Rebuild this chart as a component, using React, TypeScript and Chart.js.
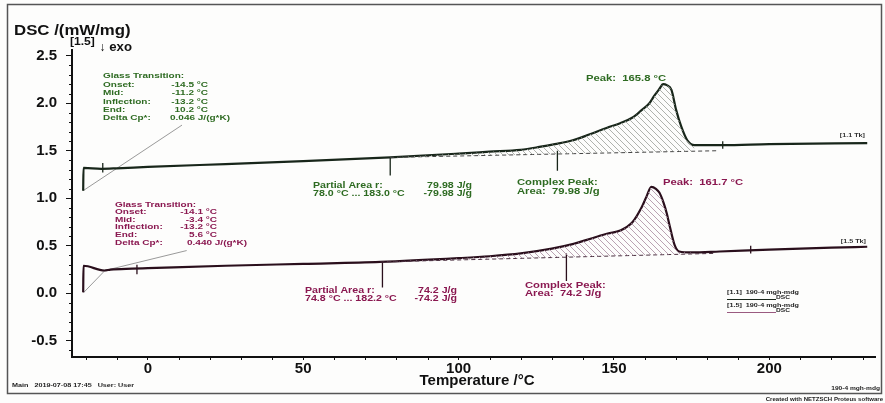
import React, { useEffect, useRef } from "react";
import { Chart, registerables } from "chart.js";
Chart.register(...registerables);

// ---- axis ticks ----
const xTicks = [0, 50, 100, 150, 200];
const yTicks = [-0.5, 0.0, 0.5, 1.0, 1.5, 2.0, 2.5];

// ---- upper DSC curve (green sample) ----
const upperT = [-20.8, -20.7, -15, -10, 0, 25, 50, 78, 100, 110, 120, 126, 131, 136.7, 142, 147.6, 152, 156, 159, 161.4, 163, 164.6, 165.8, 167, 168.5, 170, 171.7, 173.6, 175.9, 185, 200, 231.5];
const upperDSC = [1.08, 1.32, 1.31, 1.315, 1.33, 1.36, 1.39, 1.43, 1.47, 1.49, 1.51, 1.54, 1.57, 1.61, 1.67, 1.74, 1.79, 1.85, 1.93, 2.0, 2.08, 2.15, 2.2, 2.19, 2.14, 1.93, 1.75, 1.61, 1.56, 1.56, 1.57, 1.58];

// ---- lower DSC curve (magenta sample) ----
const lowerT = [-20.8, -20.7, -14, -12, -5, 0, 25, 50, 74.8, 100, 110, 120, 130, 137, 141, 145, 148, 152, 156, 159, 160.5, 162, 163.5, 164.6, 166, 167, 168, 169.5, 171, 175, 184, 200, 220, 231.5];
const lowerDSC = [0.01, 0.29, 0.24, 0.25, 0.26, 0.265, 0.29, 0.31, 0.33, 0.37, 0.39, 0.42, 0.47, 0.52, 0.56, 0.6, 0.63, 0.66, 0.75, 0.91, 1.02, 1.12, 1.1, 1.06, 0.95, 0.84, 0.7, 0.51, 0.44, 0.43, 0.44, 0.46, 0.48, 0.49];

// ---- integration baselines ----
const upperBaseT = [78.0, 183.0];
const upperBaseDSC = [1.43, 1.5];
const lowerBaseT = [74.8, 182.2];
const lowerBaseDSC = [0.33, 0.42];

// ---- glass transition leader lines ----
const upperLeaderT = [-20.8, 11];
const upperLeaderDSC = [1.08, 1.77];
const lowerLeaderT = [-20.6, -13.8, 12.5];
const lowerLeaderDSC = [0.01, 0.24, 0.45];

// ---- marker lines [T, from, to] ----
const upperMarkT = [78.0, 131.8, -14.5, 185];
const upperMarkFrom = [1.43, 1.5, 1.27, 1.52];
const upperMarkTo = [1.24, 1.29, 1.37, 1.6];
const lowerMarkT = [75.5, 134.7, -3.5, 194];
const lowerMarkFrom = [0.33, 0.42, 0.2, 0.42];
const lowerMarkTo = [0.06, 0.13, 0.3, 0.5];

const FONT = '"Liberation Sans", Arial, Helvetica, sans-serif';
const GREEN = "#2e6b22";
const MAG = "#8a1850";
const UPLINE = "#18261a";
const LOWLINE = "#2a0f1c";

const pts = (T: number[], V: number[]) => T.map((t, i) => ({ x: t, y: V[i] }));

function hatch(color: string) {
  const n = 6;
  const c = document.createElement("canvas");
  c.width = n;
  c.height = n;
  const g = c.getContext("2d")!;
  g.strokeStyle = color;
  g.lineWidth = 0.8;
  g.beginPath();
  g.moveTo(0, 0);
  g.lineTo(n, n);
  g.moveTo(-1, n - 1);
  g.lineTo(1, n + 1);
  g.moveTo(n - 1, -1);
  g.lineTo(n + 1, 1);
  g.stroke();
  return g.createPattern(c, "repeat")!;
}

function txt(ctx: CanvasRenderingContext2D, s: string, x: number, y: number, size: number, color: string, align: CanvasTextAlign = "left", sx = 1.25) {
  ctx.save();
  ctx.font = `bold ${size}px ${FONT}`;
  ctx.fillStyle = color;
  ctx.textBaseline = "middle";
  ctx.textAlign = align;
  ctx.translate(x, y);
  ctx.scale(sx, 1);
  ctx.fillText(s, 0, 0);
  ctx.restore();
}

const decor = {
  id: "decor",
  beforeDraw(chart: any) {
    const ctx = chart.ctx as CanvasRenderingContext2D;
    ctx.save();
    ctx.fillStyle = "#fdfdfc";
    ctx.fillRect(0, 0, chart.width, chart.height);
    ctx.strokeStyle = "#555";
    ctx.lineWidth = 1.5;
    ctx.strokeRect(7.5, 4.5, 874, 389);
    ctx.restore();
  },
  afterDraw(chart: any) {
    const ctx = chart.ctx as CanvasRenderingContext2D;
    const xs = chart.scales.x;
    const ys = chart.scales.y;
    const ca = chart.chartArea;
    // minor ticks
    ctx.save();
    ctx.strokeStyle = "#111";
    ctx.lineWidth = 1;
    ctx.beginPath();
    for (let i = -6; i <= 25; i++) {
      if (i % 5 === 0) continue;
      const py = Math.round(ys.getPixelForValue(i / 10)) + 0.5;
      ctx.moveTo(ca.left - 3, py);
      ctx.lineTo(ca.left, py);
    }
    for (let t = -20; t <= 230; t += 10) {
      if (t % 50 === 0) continue;
      const px = Math.round(xs.getPixelForValue(t)) + 0.5;
      ctx.moveTo(px, ca.bottom);
      ctx.lineTo(px, ca.bottom + 3);
    }
    ctx.stroke();
    ctx.restore();

    // titles
    txt(ctx, "DSC /(mW/mg)", 14, 31, 14, "#111", "left", 1.2);
    txt(ctx, "[1.5]", 70, 42, 11, "#111", "left", 1.1);
    txt(ctx, "\u2193 exo", 99, 47.5, 12, "#111", "left", 1.1);
    txt(ctx, "Temperature /\u00b0C", 477, 381, 15, "#111", "center", 1.0);

    // upper glass transition
    const g1 = [
      ["Glass Transition:", "", 76],
      ["Onset:", "-14.5 \u00b0C", 84.5],
      ["Mid:", "-11.2 \u00b0C", 93],
      ["Inflection:", "-13.2 \u00b0C", 101.5],
      ["End:", "10.2 \u00b0C", 110],
    ] as [string, string, number][];
    g1.forEach(([a, b, y]) => {
      txt(ctx, a, 103, y, 8, GREEN);
      if (b) txt(ctx, b, 208, y, 8, GREEN, "right");
    });
    txt(ctx, "Delta Cp*:", 103, 118, 8, GREEN);
    txt(ctx, "0.046 J/(g*K)", 170, 118, 8, GREEN);

    const g2 = [
      ["Glass Transition:", "", 204.5],
      ["Onset:", "-14.1 \u00b0C", 212],
      ["Mid:", "-3.4 \u00b0C", 219.5],
      ["Inflection:", "-13.2 \u00b0C", 227],
      ["End:", "5.6 \u00b0C", 234.5],
    ] as [string, string, number][];
    g2.forEach(([a, b, y]) => {
      txt(ctx, a, 115, y, 8, MAG);
      if (b) txt(ctx, b, 217, y, 8, MAG, "right");
    });
    txt(ctx, "Delta Cp*:", 115, 242.5, 8, MAG);
    txt(ctx, "0.440 J/(g*K)", 187, 242.5, 8, MAG);

    // partial areas / complex peaks / peaks
    txt(ctx, "Partial Area r:", 313, 185.5, 8.5, GREEN);
    txt(ctx, "79.98 J/g", 472, 185.5, 8.5, GREEN, "right");
    txt(ctx, "78.0 \u00b0C ... 183.0 \u00b0C", 313, 193.5, 8.5, GREEN);
    txt(ctx, "-79.98 J/g", 472, 193.5, 8.5, GREEN, "right");
    txt(ctx, "Complex Peak:", 517, 183, 9, GREEN);
    txt(ctx, "Area:  79.98 J/g", 517, 191.5, 9, GREEN);
    txt(ctx, "Peak:  165.8 \u00b0C", 586, 79, 9, GREEN);

    txt(ctx, "Partial Area r:", 305, 290.5, 8.5, MAG);
    txt(ctx, "74.2 J/g", 457, 290.5, 8.5, MAG, "right");
    txt(ctx, "74.8 \u00b0C ... 182.2 \u00b0C", 305, 298.5, 8.5, MAG);
    txt(ctx, "-74.2 J/g", 457, 298.5, 8.5, MAG, "right");
    txt(ctx, "Complex Peak:", 525, 286, 9, MAG);
    txt(ctx, "Area:  74.2 J/g", 525, 294, 9, MAG);
    txt(ctx, "Peak:  161.7 \u00b0C", 663, 183, 9, MAG);

    // curve end labels
    txt(ctx, "[1.1 Tk]", 865, 135, 6, "#333", "right", 1.2);
    txt(ctx, "[1.5 Tk]", 866, 241, 6, "#333", "right", 1.2);

    // legend
    txt(ctx, "[1.1]  190-4 mgh-mdg", 727, 292.5, 6, "#222", "left", 1.2);
    txt(ctx, "DSC", 790, 297.5, 5.5, "#222", "right", 1.2);
    txt(ctx, "[1.5]  190-4 mgh-mdg", 727, 305, 6, "#222", "left", 1.2);
    txt(ctx, "DSC", 790, 310, 5.5, "#222", "right", 1.2);
    ctx.save();
    ctx.lineWidth = 1;
    ctx.strokeStyle = UPLINE;
    ctx.beginPath();
    ctx.moveTo(727, 299.5);
    ctx.lineTo(776, 299.5);
    ctx.stroke();
    ctx.strokeStyle = "#9a5a80";
    ctx.beginPath();
    ctx.moveTo(727, 312.5);
    ctx.lineTo(776, 312.5);
    ctx.stroke();
    ctx.restore();

    // footer
    txt(ctx, "Main   2019-07-08 17:45   User: User", 12, 385, 6, "#222", "left", 1.2);
    txt(ctx, "190-4 mgh-mdg", 880, 388.5, 6, "#222", "right", 1.1);
    txt(ctx, "Created with NETZSCH Proteus software", 883, 399, 5.5, "#222", "right", 1.1);
  },
};

export default function App() {
  const ref = useRef<HTMLCanvasElement | null>(null);
  useEffect(() => {
    if (!ref.current) return;
    const upper = pts(upperT, upperDSC);
    const lower = pts(lowerT, lowerDSC);
    const upperHatch = upper.filter((p) => p.x >= upperBaseT[0] && p.x <= upperBaseT[1]);
    const lowerHatch = lower.filter((p) => p.x >= lowerBaseT[0] && p.x <= lowerBaseT[1]);
    const markSets: any[] = [];
    upperMarkT.forEach((t, i) =>
      markSets.push({ data: [{ x: t, y: upperMarkFrom[i] }, { x: t, y: upperMarkTo[i] }], borderColor: UPLINE, borderWidth: 1.3, pointRadius: 0, fill: false })
    );
    lowerMarkT.forEach((t, i) =>
      markSets.push({ data: [{ x: t, y: lowerMarkFrom[i] }, { x: t, y: lowerMarkTo[i] }], borderColor: LOWLINE, borderWidth: 1.3, pointRadius: 0, fill: false })
    );
    const chart = new Chart(ref.current, {
      type: "line",
      data: {
        datasets: [
          { data: upperHatch, borderWidth: 0, pointRadius: 0, fill: 1, backgroundColor: hatch("#9a9e98"), cubicInterpolationMode: "monotone" },
          { data: pts(upperBaseT, upperBaseDSC), borderColor: "#444", borderWidth: 1, borderDash: [4, 3], pointRadius: 0, fill: false },
          { data: lowerHatch, borderWidth: 0, pointRadius: 0, fill: 3, backgroundColor: hatch("#a88a9e"), cubicInterpolationMode: "monotone" },
          { data: pts(lowerBaseT, lowerBaseDSC), borderColor: "#4a3040", borderWidth: 1, borderDash: [4, 3], pointRadius: 0, fill: false },
          { data: upper, borderColor: UPLINE, borderWidth: 2.2, pointRadius: 0, fill: false, cubicInterpolationMode: "monotone" },
          { data: lower, borderColor: LOWLINE, borderWidth: 2.2, pointRadius: 0, fill: false, cubicInterpolationMode: "monotone" },
          { data: pts(upperLeaderT, upperLeaderDSC), borderColor: "#9a9a9a", borderWidth: 1, pointRadius: 0, fill: false },
          { data: pts(lowerLeaderT, lowerLeaderDSC), borderColor: "#9a9a9a", borderWidth: 1, pointRadius: 0, fill: false },
          ...markSets,
        ] as any,
      },
      options: {
        animation: false,
        responsive: false,
        parsing: false as any,
        layout: { padding: { top: 50, right: 10, bottom: 0, left: 0 } },
        plugins: { legend: { display: false }, tooltip: { enabled: false } },
        elements: { point: { radius: 0 }, line: { tension: 0 } },
        scales: {
          x: {
            type: "linear",
            min: -24.4,
            max: 234,
            afterBuildTicks: (s: any) => {
              s.ticks = xTicks.map((v) => ({ value: v }));
            },
            afterFit: (s: any) => {
              s.height = 46;
            },
            ticks: { color: "#111", font: { family: FONT, size: 15, weight: "bold" }, padding: 0, maxRotation: 0, autoSkip: false },
            grid: { drawOnChartArea: false, drawTicks: true, tickLength: 3, color: "#111", lineWidth: 1 },
            border: { display: true, color: "#111", width: 2 },
          },
          y: {
            type: "linear",
            min: -0.67,
            max: 2.56,
            afterBuildTicks: (s: any) => {
              s.ticks = yTicks.map((v) => ({ value: v }));
            },
            afterFit: (s: any) => {
              s.width = 72;
            },
            ticks: { color: "#111", font: { family: FONT, size: 15, weight: "bold" }, padding: 9, callback: (v: any) => Number(v).toFixed(1), autoSkip: false },
            grid: { drawOnChartArea: false, drawTicks: true, tickLength: 6, color: "#111", lineWidth: 1 },
            border: { display: true, color: "#111", width: 2 },
          },
        },
      },
      plugins: [decor as any],
    });
    return () => chart.destroy();
  }, []);
  return (
    <div style={{ position: "fixed", left: 0, top: 0, width: 885, height: 403 }}>
      <canvas ref={ref} width={885} height={403} style={{ width: 885, height: 403, display: "block" }} />
    </div>
  );
}
